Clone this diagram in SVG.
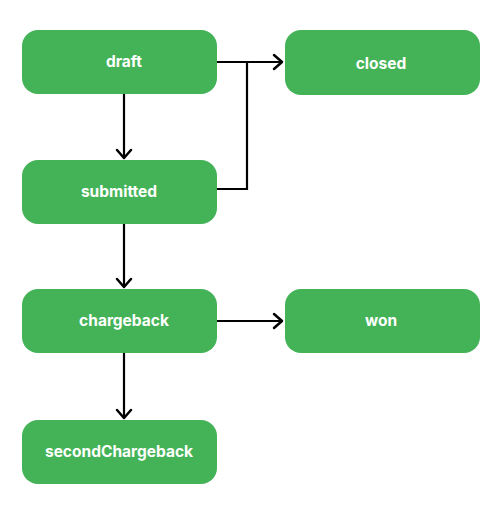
<svg xmlns="http://www.w3.org/2000/svg" width="500" height="511" viewBox="0 0 500 511">
<style>
.n{fill:#44b357}
.t{fill:#fff;font-family:Inter,"Liberation Sans",sans-serif;font-weight:700;font-size:15.5px;text-anchor:middle}
.c{fill:none;stroke:#000;stroke-width:2.2}
.h{fill:none;stroke:#000;stroke-width:2.5;stroke-linecap:round;stroke-linejoin:round}
</style>
<rect width="500" height="511" fill="#fff"/>
<g id="connectors">
<path class="c" d="M217 62H282"/><path class="h" d="M274 55L282 62L274 69"/>
<path class="c" d="M217 189H247V62"/>
<path class="c" d="M124 94V158"/><path class="h" d="M117 150L124 158L131 150"/>
<path class="c" d="M124 224V287"/><path class="h" d="M117 279L124 287L131 279"/>
<path class="c" d="M217 321H282"/><path class="h" d="M274 314L282 321L274 328"/>
<path class="c" d="M124 353V418"/><path class="h" d="M117 410L124 418L131 410"/>
</g>
<g id="draft"><rect class="n" x="22" y="30" width="195" height="64" rx="16"/><text class="t" x="124" y="67">draft</text></g>
<g id="closed"><rect class="n" x="285" y="30" width="195" height="65" rx="16"/><text class="t" x="381" y="69">closed</text></g>
<g id="submitted"><rect class="n" x="22" y="160" width="195" height="64" rx="16"/><text class="t" x="119" y="197">submitted</text></g>
<g id="chargeback"><rect class="n" x="22" y="289" width="195" height="64" rx="16"/><text class="t" x="124" y="326">chargeback</text></g>
<g id="won"><rect class="n" x="285" y="289" width="195" height="64" rx="16"/><text class="t" x="381" y="326">won</text></g>
<g id="secondChargeback"><rect class="n" x="22" y="420" width="195" height="64" rx="16"/><text class="t" x="119" y="457">secondChargeback</text></g>
</svg>
